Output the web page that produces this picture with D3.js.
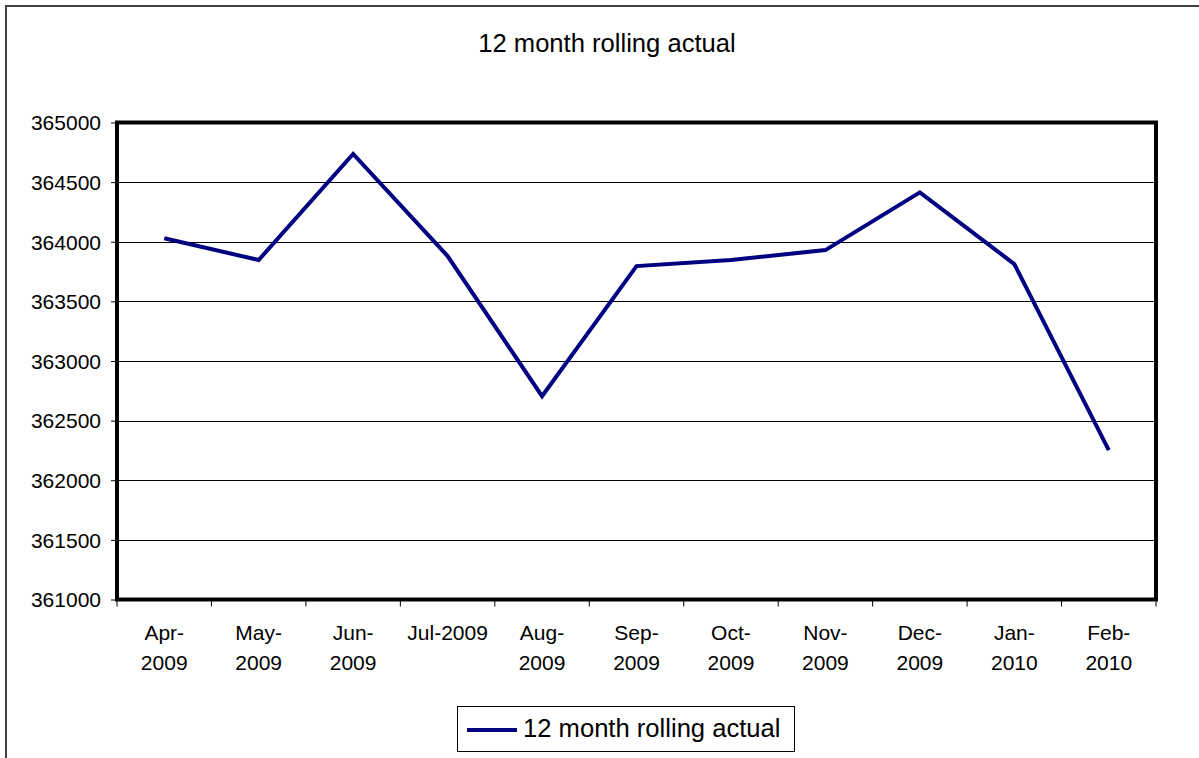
<!DOCTYPE html>
<html>
<head>
<meta charset="utf-8">
<script src="https://cdn.jsdelivr.net/npm/d3@7"></script>
<style>
  html, body { margin: 0; padding: 0; background: #fff; }
  svg { display: block; font-family: "Liberation Sans", Arial, sans-serif; }
</style>
</head>
<body>
<svg id="chart" width="1199" height="758"></svg>
<script>
const title = "12 month rolling actual";
const seriesName = "12 month rolling actual";
const categories = ["Apr-2009","May-2009","Jun-2009","Jul-2009","Aug-2009","Sep-2009","Oct-2009","Nov-2009","Dec-2009","Jan-2010","Feb-2010"];
const categoryLines = [["Apr-","2009"],["May-","2009"],["Jun-","2009"],["Jul-2009"],["Aug-","2009"],["Sep-","2009"],["Oct-","2009"],["Nov-","2009"],["Dec-","2009"],["Jan-","2010"],["Feb-","2010"]];
const values = [364029, 363847, 364736, 363880, 362705, 363796, 363847, 363930, 364414, 363813, 362252];
const yTicks = [361000, 361500, 362000, 362500, 363000, 363500, 364000, 364500, 365000];

const svg = d3.select("#chart");
const plot = { left: 117, right: 1156, top: 122.5, bottom: 599.5 };

// outer chart border
svg.append("rect")
  .attr("x", 6).attr("y", 6)
  .attr("width", 1210).attr("height", 780)
  .attr("fill", "#fff")
  .attr("stroke", "#404040").attr("stroke-width", 2);

const band = d3.scaleBand().domain(categories).range([plot.left, plot.right]).padding(0);
const x = d3.scalePoint().domain(categories).range([plot.left, plot.right]).padding(0.5);
const y = d3.scaleLinear().domain([361000, 365000]).range([plot.bottom, plot.top]);

// title
svg.append("text")
  .attr("x", 607).attr("y", 52)
  .attr("text-anchor", "middle")
  .attr("font-size", 25.6)
  .attr("fill", "#000")
  .text(title);

// gridlines
svg.append("g")
  .selectAll("line")
  .data(yTicks.filter(d => d !== 361000 && d !== 365000))
  .join("line")
  .attr("x1", plot.left).attr("x2", plot.right)
  .attr("y1", d => Math.round(y(d)) + 0.5).attr("y2", d => Math.round(y(d)) + 0.5)
  .attr("stroke", "#000").attr("stroke-width", 1);

// y axis
const yAxis = d3.axisLeft(y).tickValues(yTicks).tickSize(6).tickPadding(10).tickFormat(d3.format("d"));
const gy = svg.append("g").attr("transform", `translate(${plot.left},0)`).call(yAxis);
gy.select(".domain").remove();
gy.selectAll(".tick line").attr("stroke", "#000").attr("stroke-width", 1);
gy.selectAll(".tick text").attr("font-size", 21).attr("fill", "#000").attr("font-family", "'Liberation Sans', Arial, sans-serif").attr("dy", "0.35em");

// x axis ticks at category boundaries
const boundaries = categories.map(c => band(c)).concat([plot.right]);
svg.append("g").selectAll("line")
  .data(boundaries)
  .join("line")
  .attr("x1", d => d).attr("x2", d => d)
  .attr("y1", plot.bottom).attr("y2", plot.bottom + 7)
  .attr("stroke", "#000").attr("stroke-width", 1);

// x labels
const xl = svg.append("g").selectAll("text")
  .data(categories)
  .join("text")
  .attr("x", d => x(d))
  .attr("y", 640)
  .attr("text-anchor", "middle")
  .attr("font-size", 21)
  .attr("fill", "#000");
xl.each(function(d, i) {
  const t = d3.select(this);
  categoryLines[i].forEach((ln, j) => {
    t.append("tspan").attr("x", x(d)).attr("dy", j === 0 ? 0 : 30).text(ln);
  });
});

// plot border
svg.append("rect")
  .attr("x", plot.left).attr("y", plot.top)
  .attr("width", plot.right - plot.left).attr("height", plot.bottom - plot.top)
  .attr("fill", "none").attr("stroke", "#000").attr("stroke-width", 4);

// line
const line = d3.line().x((d, i) => x(categories[i])).y(d => y(d));
svg.append("path")
  .datum(values)
  .attr("d", line)
  .attr("fill", "none")
  .attr("stroke", "#000080")
  .attr("stroke-width", 4)
  .attr("stroke-linejoin", "miter");

// legend
const lg = svg.append("g");
lg.append("rect")
  .attr("x", 457.5).attr("y", 706.5)
  .attr("width", 337).attr("height", 45)
  .attr("fill", "#fff").attr("stroke", "#000").attr("stroke-width", 1);
lg.append("line")
  .attr("x1", 467).attr("x2", 517).attr("y1", 730).attr("y2", 730)
  .attr("stroke", "#000080").attr("stroke-width", 4);
lg.append("text")
  .attr("x", 523).attr("y", 737)
  .attr("font-size", 25.6)
  .attr("fill", "#000")
  .text(seriesName);
</script>
</body>
</html>
